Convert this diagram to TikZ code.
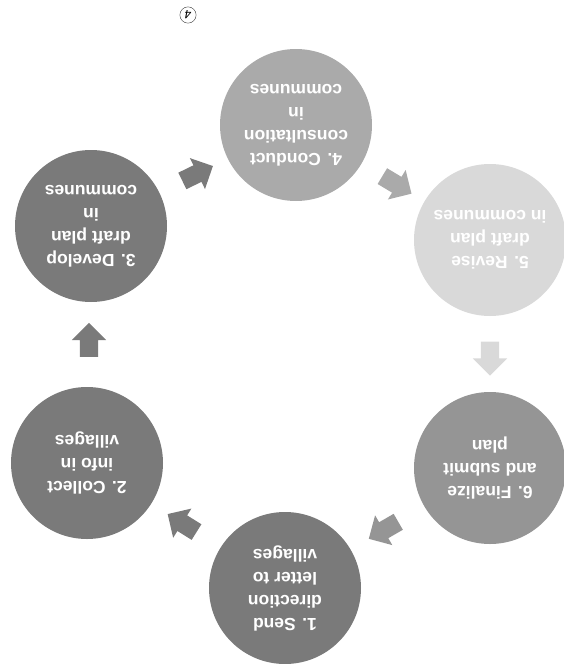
\documentclass[tikz,border=0pt]{standalone}
\usepackage{fontspec}
\setmainfont{Liberation Sans}
\usetikzlibrary{shapes.arrows,calc}
\definecolor{gA}{HTML}{7A7A7A}
\definecolor{gB}{HTML}{AAAAAA}
\definecolor{gC}{HTML}{D9D9D9}
\definecolor{gD}{HTML}{959595}
\tikzset{
  stepcircle/.style={circle, minimum size=152pt, inner sep=0pt, align=center,
    text=white, font=\bfseries\fontsize{17.5}{23}\selectfont, rotate=180},
  blockarrow/.style={single arrow, minimum height=34pt, inner sep=0pt,
    single arrow head extend=8pt},
}
\newcommand{\shaft}{\rule{0pt}{18pt}}
\begin{document}
\begin{tikzpicture}[x=1pt,y=-1pt]
\useasboundingbox (0,0) rectangle (563,664);
\node[stepcircle, fill=gA] (n1) at (285,588) {1. Send\\direction\\letter to\\villages};
\node[stepcircle, fill=gA] (n2) at (87,463) {2. Collect\\info in\\villages};
\node[stepcircle, fill=gA] (n3) at (91,226) {3. Develop\\draft plan\\in\\communes};
\node[stepcircle, fill=gB] (n4) at (296,125) {4. Conduct\\consultation\\in\\communes};
\node[stepcircle, fill=gC] (n5) at (490,240) {5. Revise\\draft plan\\in communes};
\node[stepcircle, fill=gD] (n6) at (490,468) {6. Finalize\\and submit\\plan};
\node[blockarrow, fill=gA, rotate=148] (a12) at ($(n1)!0.5!(n2)$) {\shaft};
\node[blockarrow, fill=gA, rotate=90] (a23) at ($(n2)!0.5!(n3)$) {\shaft};
\node[blockarrow, fill=gA, rotate=26] (a34) at ($(n3)!0.5!(n4)$) {\shaft};
\node[blockarrow, fill=gB, rotate=-31] (a45) at ($(n4)!0.5!(n5)$) {\shaft};
\node[blockarrow, fill=gC, rotate=-90] (a56) at ($(n5)!0.5!(n6)$) {\shaft};
\node[blockarrow, fill=gD, rotate=210] (a61) at ($(n6)!0.5!(n1)$) {\shaft};
\node[circle, draw=black!80, thin, inner sep=2pt, rotate=180, font=\itshape\large] (mark) at (188,15) {4};
\end{tikzpicture}
\end{document}
